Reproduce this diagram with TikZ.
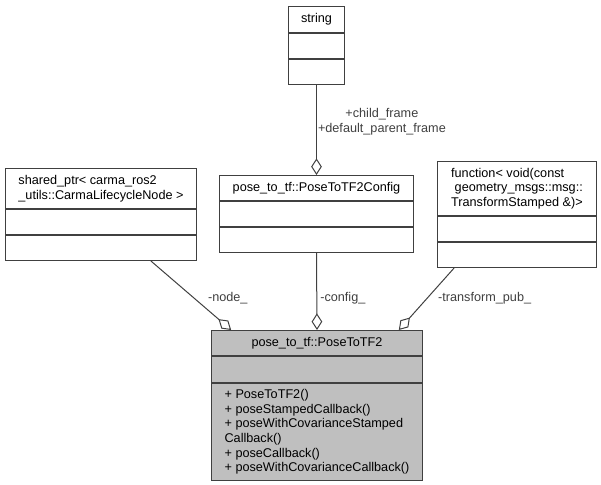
\documentclass[tikz,border=0pt]{standalone}
\usepackage{fontspec}
\setmainfont{Liberation Sans}
\usetikzlibrary{positioning,calc,arrows.meta}
\definecolor{edgegray}{HTML}{404040}
\definecolor{clsfill}{HTML}{BFBFBF}
\newdimen\upx \upx=0.75pt
\tikzset{
  collab/.style={x=0.75pt, y=-0.75pt, line width=0.75pt,
    font=\fontsize{9.5}{11}\selectfont},
  clshead/.style={draw=edgegray, anchor=north west, align=left,
    inner xsep=2pt, inner ysep=0pt},
  clspart/.style={draw=edgegray, inner sep=0pt, align=left},
  aggr/.style={edgegray, -{Diamond[open, length=12.5pt, width=8pt]}},
  elabel/.style={inner sep=0pt, align=center},
}

\begin{document}
\begin{tikzpicture}[collab]
  \useasboundingbox (0,0) rectangle (601,485);
  % string, top
  \node[clshead, minimum width=56\upx, minimum height=26\upx] (strHead) at (288,6) {string};
  \node[clspart, minimum width=56\upx, minimum height=25\upx, below=0pt of strHead] (strAttr) {};
  \node[clspart, minimum width=56\upx, minimum height=25\upx, below=0pt of strAttr] (strOps) {};
  % shared_ptr, left
  \node[clshead, minimum width=191\upx, minimum height=40\upx] (shrHead) at (5,168)
    {shared\_ptr< carma\_ros2\\\_utils::CarmaLifecycleNode >};
  \node[clspart, minimum width=191\upx, minimum height=25\upx, below=0pt of shrHead] (shrAttr) {};
  \node[clspart, minimum width=191\upx, minimum height=25\upx, below=0pt of shrAttr] (shrOps) {};
  % PoseToTF2Config, middle
  \node[clshead, minimum width=194\upx, minimum height=25\upx] (cfgHead) at (219,175)
    {pose\_to\_tf::PoseToTF2Config};
  \node[clspart, minimum width=194\upx, minimum height=25\upx, below=0pt of cfgHead] (cfgAttr) {};
  \node[clspart, minimum width=194\upx, minimum height=25\upx, below=0pt of cfgAttr] (cfgOps) {};
  % function<...>, right
  \node[clshead, minimum width=159\upx, minimum height=54\upx] (fnHead) at (437,161)
    {function< void(const\\\hspace*{0.28em}geometry\_msgs::msg::\\TransformStamped \&)>};
  \node[clspart, minimum width=159\upx, minimum height=25\upx, below=0pt of fnHead] (fnAttr) {};
  \node[clspart, minimum width=159\upx, minimum height=25\upx, below=0pt of fnAttr] (fnOps) {};
  % PoseToTF2, bottom
  \node[clshead, fill=clsfill, minimum width=211\upx, minimum height=25\upx] (mainHead) at (211,330)
    {pose\_to\_tf::PoseToTF2};
  \node[clspart, fill=clsfill, minimum width=211\upx, minimum height=26\upx, below=0pt of mainHead] (mainAttr) {};
  \node[clspart, fill=clsfill, minimum width=211\upx, minimum height=97\upx, below=0pt of mainAttr] (mainOps)
    {+ PoseToTF2()\\+ poseStampedCallback()\\+ poseWithCovarianceStamped\\Callback()\\+ poseCallback()\\+ poseWithCovarianceCallback()};
  % aggregations
  \draw[aggr] (strOps.south) -- node[elabel, pos=0.41, right=0.75pt]
    {+child\_frame\\+default\_parent\_frame} (cfgHead.north);
  \draw[aggr] ($(shrOps.south west)!0.76!(shrOps.south east)$)
    -- node[elabel, pos=0.54, right=10pt] {-node\_}
    ($(mainHead.north west)!0.095!(mainHead.north east)$);
  \draw[aggr] (cfgOps.south) -- node[elabel, pos=0.59, right=2.25pt] {-config\_} (mainHead.north);
  \draw[aggr] ($(fnOps.south west)!0.107!(fnOps.south east)$)
    -- node[elabel, pos=0.49, right=8pt] {-transform\_pub\_}
    ($(mainHead.north west)!0.886!(mainHead.north east)$);
\end{tikzpicture}
\end{document}
